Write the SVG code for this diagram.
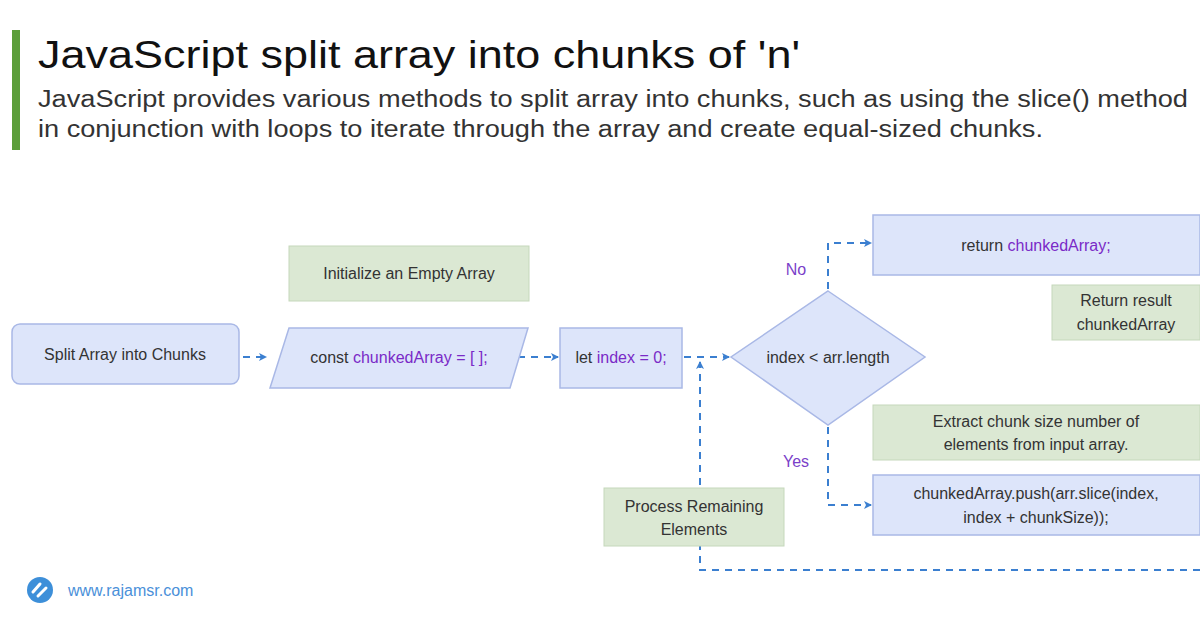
<svg xmlns="http://www.w3.org/2000/svg" width="1200" height="628" viewBox="0 0 1200 628">
<style>
text{font-family:"Liberation Sans",Arial,sans-serif;fill:#333}
.b{fill:#dde5fa;stroke:#a9b8e6;stroke-width:1.5}
.g{fill:#dbe8d3;stroke:#c5d8bb;stroke-width:1}
.t{font-size:16px;text-anchor:middle}
.v{fill:#7a2ac7}
.c{fill:none;stroke:#3b7fd0;stroke-width:2;stroke-dasharray:7 6}
.l{font-size:16px;fill:#7a3fc9;text-anchor:middle}
</style>
<defs><marker id="a" markerWidth="10" markerHeight="10" refX="8" refY="5" orient="auto" markerUnits="userSpaceOnUse"><path d="M1,1 L9,5 L1,9 L3,5z" fill="#3b7fd0"/></marker></defs>
<rect width="1200" height="628" fill="#fff"/>
<rect x="12" y="30" width="8" height="120" fill="#5c9e3a"/>
<text x="38" y="68" font-size="38" textLength="762" lengthAdjust="spacingAndGlyphs" style="fill:#111">JavaScript split array into chunks of 'n'</text>
<text x="38" y="107" font-size="23" textLength="1150" lengthAdjust="spacingAndGlyphs">JavaScript provides various methods to split array into chunks, such as using the slice() method</text>
<text x="38" y="137" font-size="23" textLength="1005" lengthAdjust="spacingAndGlyphs">in conjunction with loops to iterate through the array and create equal-sized chunks.</text>
<g id="connectors">
<path class="c" d="M243,357 H266" marker-end="url(#a)"/>
<path class="c" d="M518,357 H558" marker-end="url(#a)"/>
<path class="c" d="M684,357 H729" marker-end="url(#a)"/>
<path class="c" d="M828,289 V243 H871" marker-end="url(#a)"/>
<path class="c" d="M828,427 V505 H871" marker-end="url(#a)"/>
<path class="c" d="M1200,570 H700 V362" marker-end="url(#a)"/>
<text class="l" x="796" y="275">No</text>
<text class="l" x="796" y="467">Yes</text>
</g>
<g id="n1"><rect class="b" x="12" y="324" width="227" height="60" rx="8"/><text class="t" x="125" y="360">Split Array into Chunks</text></g>
<g id="n2"><rect class="g" x="289" y="246" width="240" height="55"/><text class="t" x="409" y="279">Initialize an Empty Array</text></g>
<g id="n3"><polygon class="b" points="289,328 528,328 510,388 270,388"/><text class="t" x="399" y="363">const <tspan class="v">chunkedArray = [ ];</tspan></text></g>
<g id="n4"><rect class="b" x="560" y="328" width="122" height="60"/><text class="t" x="621" y="363">let <tspan class="v">index = 0;</tspan></text></g>
<g id="n5"><polygon class="b" points="828,291 925,357 828,425 731,357"/><text class="t" x="828" y="363">index &lt; arr.length</text></g>
<g id="n6"><rect class="b" x="873" y="215" width="327" height="60"/><text class="t" x="1036" y="251">return <tspan class="v">chunkedArray;</tspan></text></g>
<g id="n7"><rect class="g" x="1052" y="285" width="148" height="55"/><text class="t" x="1126" y="306">Return result</text><text class="t" x="1126" y="330">chunkedArray</text></g>
<g id="n8"><rect class="g" x="873" y="405" width="327" height="55"/><text class="t" x="1036" y="427">Extract chunk size number of</text><text class="t" x="1036" y="450">elements from input array.</text></g>
<g id="n9"><rect class="b" x="873" y="475" width="327" height="60"/><text class="t" x="1036" y="499">chunkedArray.push(arr.slice(index,</text><text class="t" x="1036" y="523">index + chunkSize));</text></g>
<g id="n10"><rect class="g" x="604" y="488" width="180" height="58"/><text class="t" x="694" y="512">Process Remaining</text><text class="t" x="694" y="535">Elements</text></g>
<g id="logo"><circle cx="40" cy="590" r="13" fill="#3d8fd9"/><path d="M33,592 L40,584 M38,596 L46,588" stroke="#fff" stroke-width="3" stroke-linecap="round"/><text x="68" y="596" font-size="16" style="fill:#4a90d9">www.rajamsr.com</text></g>
</svg>
